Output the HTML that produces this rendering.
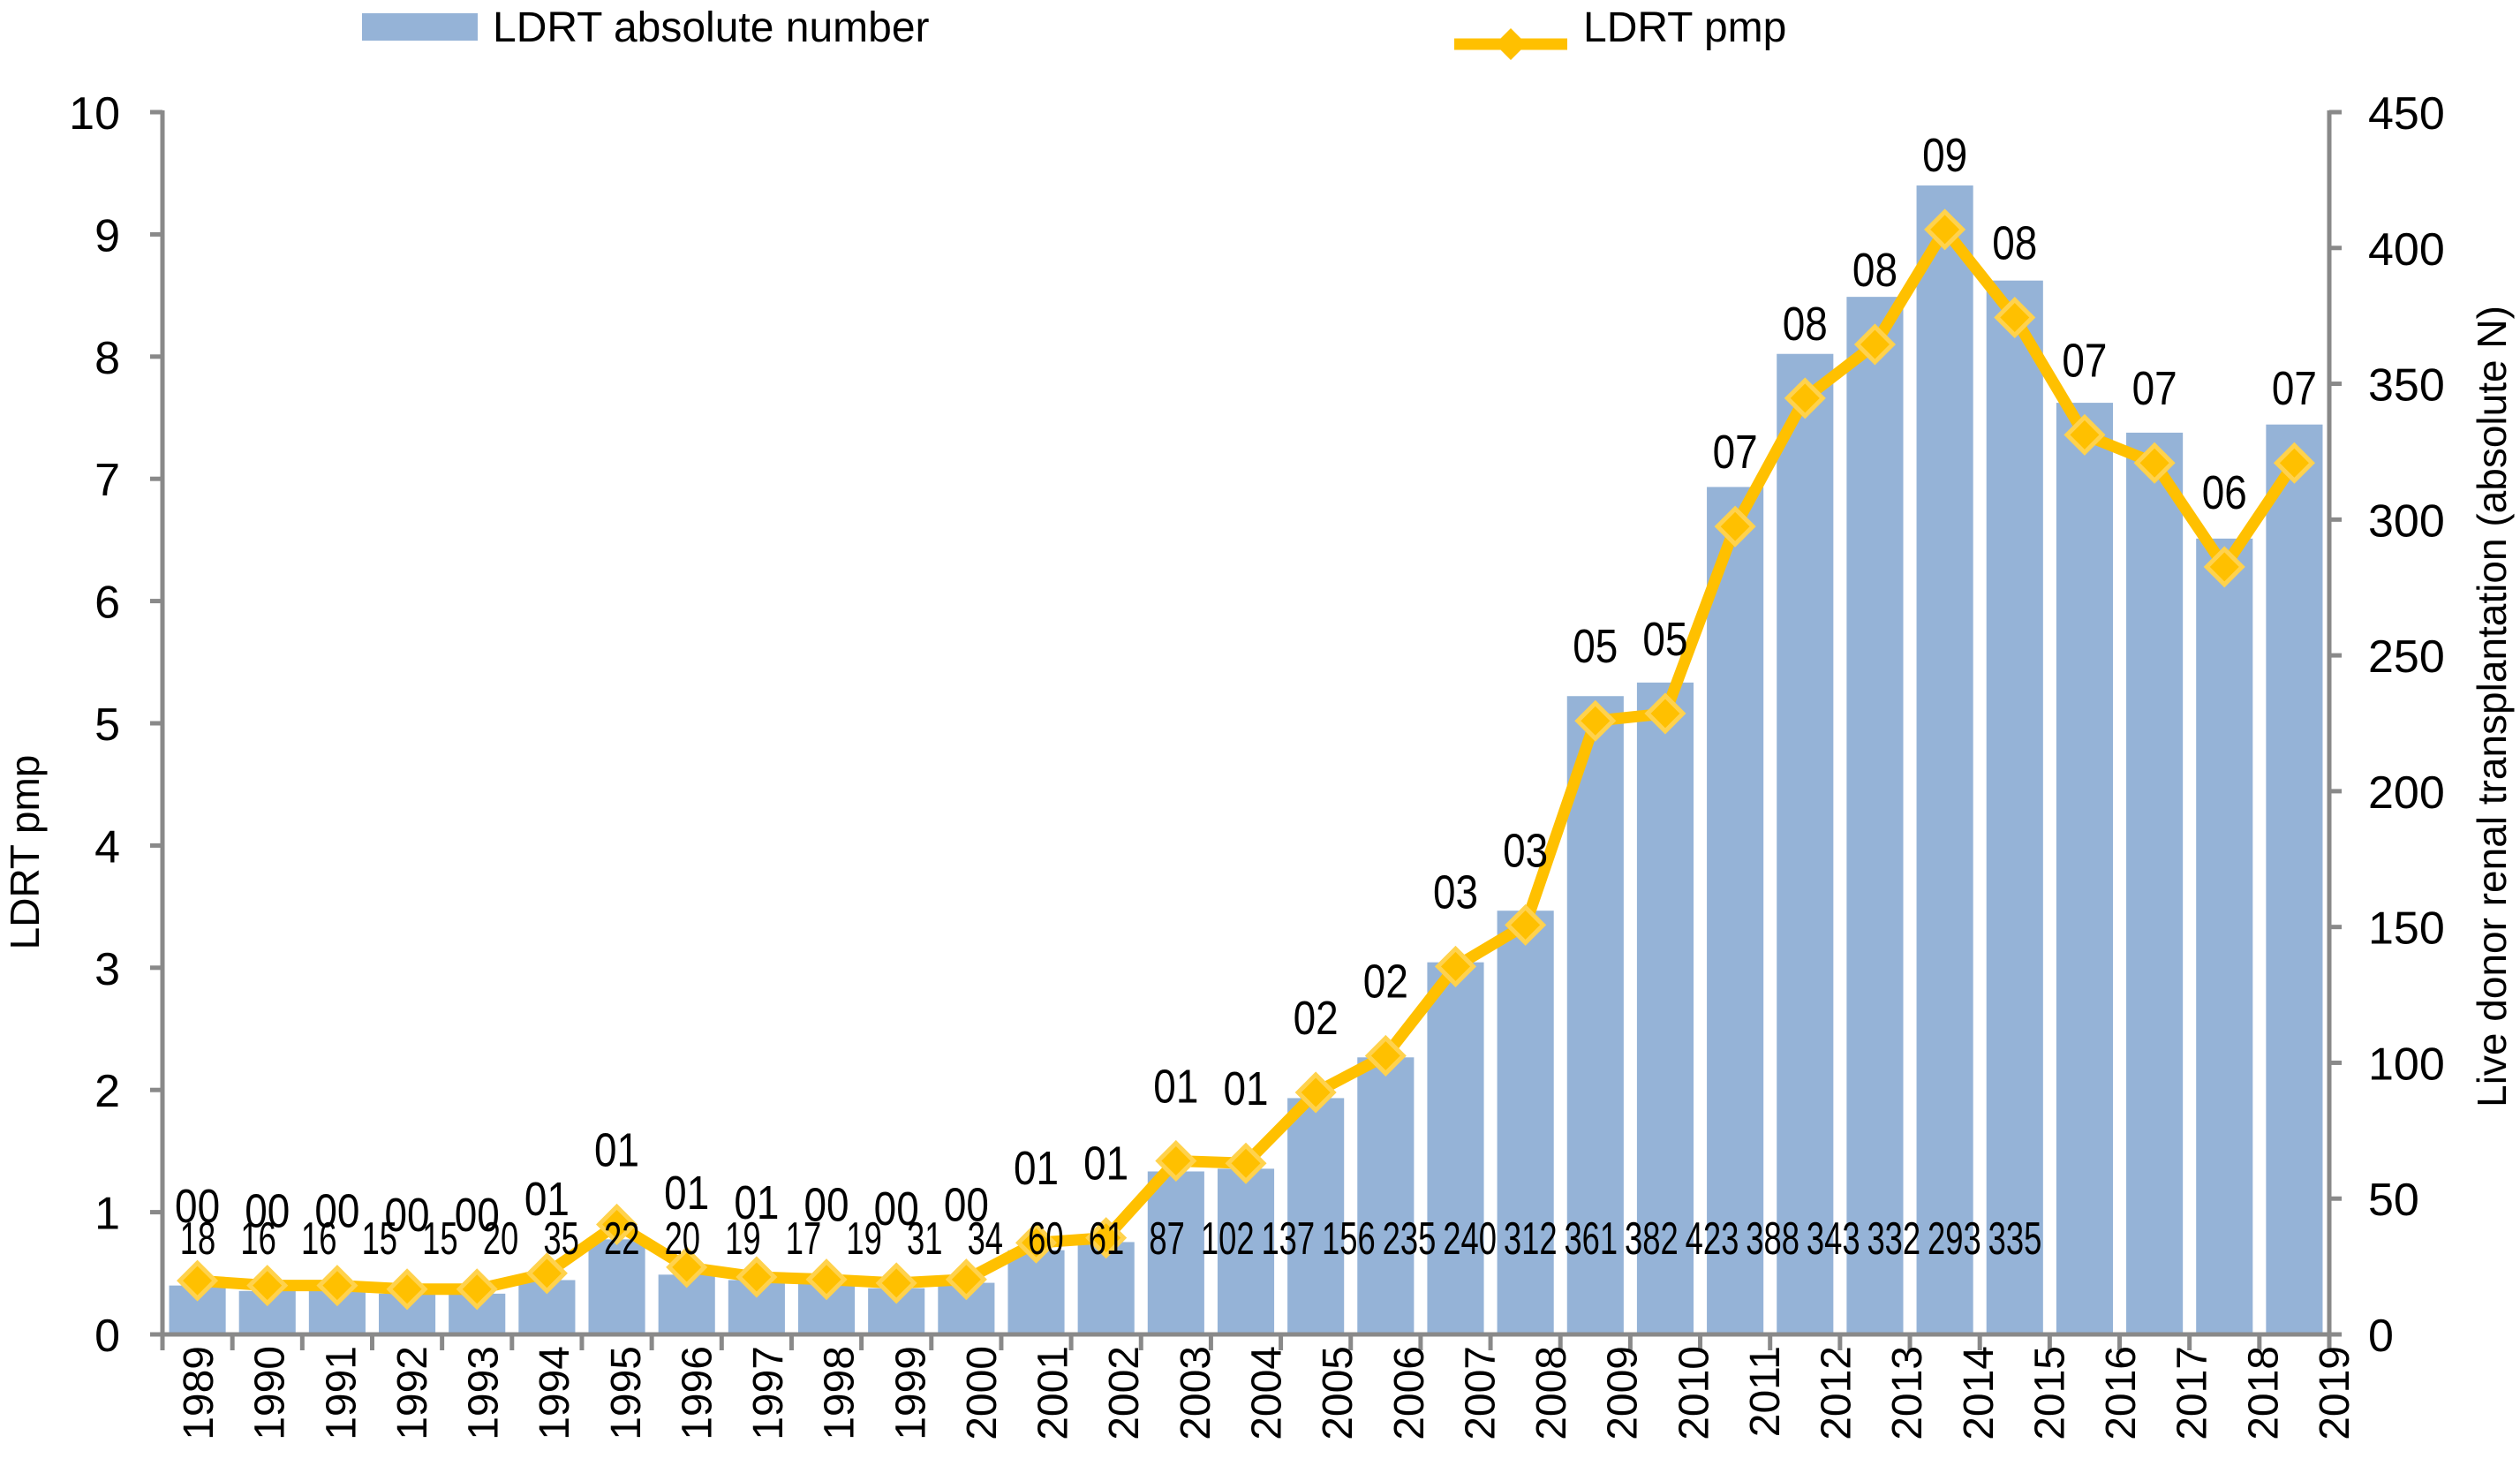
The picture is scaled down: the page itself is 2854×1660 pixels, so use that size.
<!DOCTYPE html>
<html><head><meta charset="utf-8">
<style>
html,body{margin:0;padding:0;background:#fff;}
svg{display:block;font-family:"Liberation Sans",sans-serif;}
</style></head>
<body>
<svg id="chart" width="2854" height="1660" viewBox="0 0 2854 1660" xmlns="http://www.w3.org/2000/svg">
  <g>
    <rect x="410" y="15" width="131" height="31" fill="#95B3D7"/>
    <text x="558" y="47" font-size="48" fill="#000">LDRT absolute number</text>
    <line x1="1647" y1="50" x2="1775" y2="50" stroke="#FFC000" stroke-width="13"/>
    <path d="M1711 32 L1729 50 L1711 68 L1693 50 Z" fill="#FFC000"/>
    <text x="1793" y="47" font-size="48" fill="#000">LDRT pmp</text>
  </g>
  <text transform="translate(44,965) rotate(-90)" text-anchor="middle" font-size="46">LDRT pmp</text>
  <text transform="translate(2838,800) rotate(-90)" text-anchor="middle" font-size="46">Live donor renal transplantation (absolute N)</text>
  <g id="bars"></g>
  <g id="axes"></g>
  <g id="line"></g>
  <g id="labels"></g>
</svg>
<script>
const years = ["1989","1990","1991","1992","1993","1994","1995","1996","1997","1998","1999","2000","2001","2002","2003","2004","2005","2006","2007","2008","2009","2010","2011","2012","2013","2014","2015","2016","2017","2018","2019"];
const absoluteN = [18,16,16,15,15,20,35,22,20,19,17,19,31,34,60,61,87,102,137,156,235,240,312,361,382,423,388,343,332,293,335];
const pmp = [0.44,0.40,0.40,0.37,0.37,0.50,0.90,0.55,0.47,0.45,0.42,0.45,0.75,0.79,1.42,1.40,1.98,2.28,3.01,3.35,5.02,5.08,6.61,7.66,8.10,9.04,8.32,7.36,7.13,6.28,7.13];
const pmpLabels = ["00","00","00","00","00","01","01","01","01","00","00","00","01","01","01","01","02","02","03","03","05","05","07","08","08","09","08","07","07","06","07"];
const leftTicks = [0,1,2,3,4,5,6,7,8,9,10];
const rightTicks = [0,50,100,150,200,250,300,350,400,450];

const NS = "http://www.w3.org/2000/svg";
const X0 = 184, X1 = 2638, Y0 = 1511, YT = 127;
const band = (X1 - X0) / years.length;
const xCenter = i => X0 + band * (i + 0.5);
const yLeft = v => Y0 - (v / 10) * (Y0 - YT);
const yRight = v => Y0 - (v / 450) * (Y0 - YT);
function mk(tag, attrs, parent) {
  const e = document.createElementNS(NS, tag);
  for (const k in attrs) e.setAttribute(k, attrs[k]);
  parent.appendChild(e);
  return e;
}
const gBars = document.getElementById("bars");
const gAxes = document.getElementById("axes");
const gLine = document.getElementById("line");
const gLab = document.getElementById("labels");

absoluteN.forEach((v, i) => {
  const bw = band * 0.81;
  const r = mk("rect", {x: xCenter(i) - bw / 2, y: yRight(v), width: bw, height: Y0 - yRight(v), fill: "#95B3D7"}, gBars);
  
  
});

const axisColor = "#898989";
let a = mk("line", {x1: X0, y1: YT - 2, x2: X0, y2: Y0 + 2, stroke: axisColor, "stroke-width": 5}, gAxes);


a = mk("line", {x1: X1, y1: YT - 2, x2: X1, y2: Y0 + 2, stroke: axisColor, "stroke-width": 5}, gAxes);


a = mk("line", {x1: X0 - 14, y1: Y0, x2: X1, y2: Y0, stroke: axisColor, "stroke-width": 5}, gAxes);



leftTicks.forEach(v => {
  const y = yLeft(v);
  const t = mk("line", {x1: X0 - 14, y1: y, x2: X0, y2: y, stroke: axisColor, "stroke-width": 5}, gAxes);
  
  
  const l = mk("text", {x: 136, y: y + 19, "text-anchor": "end", "font-size": 52}, gAxes);
  l.textContent = v;
  
  
});
rightTicks.forEach(v => {
  const y = yRight(v);
  const t = mk("line", {x1: X1, y1: y, x2: X1 + 14, y2: y, stroke: axisColor, "stroke-width": 5}, gAxes);
  
  
  const l = mk("text", {x: 2682, y: y + 19, "font-size": 52}, gAxes);
  l.textContent = v;
  
  
});
for (let i = 0; i <= years.length; i++) {
  const x = X0 + band * i;
  const t = mk("line", {x1: x, y1: Y0, x2: x, y2: Y0 + 18, stroke: axisColor, "stroke-width": 5}, gAxes);
  
  
}
years.forEach((yr, i) => {
  const x = 224 + i * ((2643 - 224) / (years.length - 1)) + 17;
  const l = mk("text", {transform: "translate(" + x + ",1524) rotate(-90)", "text-anchor": "end", "font-size": 48}, gAxes);
  l.textContent = yr;
  
  
});

const pts = pmp.map((v, i) => xCenter(i) + "," + yLeft(v)).join(" ");
const pl = mk("polyline", {points: pts, fill: "none", stroke: "#FFC000", "stroke-width": 13, "stroke-linejoin": "round"}, gLine);


pmp.forEach((v, i) => {
  const cx = xCenter(i), cy = yLeft(v), s = 20;
  const m = mk("path", {d: `M${cx} ${cy - s} L${cx + s} ${cy} L${cx} ${cy + s} L${cx - s} ${cy} Z`, fill: "#FFC000", stroke: "#FFD24D", "stroke-width": 5}, gLine);
  
  
});

pmpLabels.forEach((s, i) => {
  const t = mk("text", {transform: "translate(" + xCenter(i) + "," + (yLeft(pmp[i]) - 66) + ") scale(0.85,1)", "text-anchor": "middle", "font-size": 54}, gLab);
  t.textContent = s;
  
  
});
absoluteN.forEach((v, i) => {
  const t = mk("text", {transform: "translate(" + (224 + i * 68.6) + ",1420) scale(0.7,1)", "text-anchor": "middle", "font-size": 52}, gLab);
  t.textContent = v;
  
  
});
</script>
</body></html>
